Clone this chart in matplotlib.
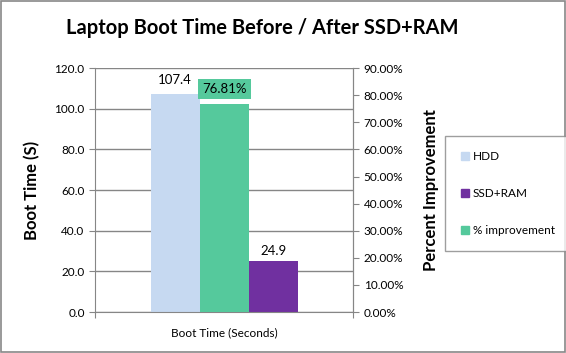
import matplotlib
matplotlib.use("Agg")
import matplotlib.pyplot as plt
from matplotlib.patches import Patch

category = "Boot Time (Seconds)"
series = ["HDD", "SSD+RAM"]
boot_times = [107.4, 24.9]
improvement = [76.81]
colours = {"HDD": "#c6d9f1", "SSD+RAM": "#7030a0", "% improvement": "#55c99c"}

plt.rcParams["font.family"] = ["Lato", "DejaVu Sans"]

fig = plt.figure(figsize=(5.66, 3.53), dpi=100)
fig.patches.append(plt.Rectangle((0.002, 0.003), 0.996, 0.994, transform=fig.transFigure,
                                 fill=False, edgecolor="#888888", linewidth=1.2))
ax = fig.add_axes([0.168, 0.116, 0.456, 0.691])
ax2 = ax.twinx()

w = 0.19
ax.bar(-w, boot_times[0], width=w, color=colours["HDD"], zorder=2)
ax.bar(w, boot_times[1], width=w, color=colours["SSD+RAM"], zorder=2)
ax2.bar(0, improvement[0], width=w, color=colours["% improvement"], zorder=2)

ax.text(-w, boot_times[0] + 4, f"{boot_times[0]:.1f}", ha="center", va="bottom", fontsize=9.5)
ax.text(w, boot_times[1] + 2, f"{boot_times[1]:.1f}", ha="center", va="bottom", fontsize=9.5)
ax2.text(0, improvement[0] + 5.5, f"{improvement[0]:.2f}%", ha="center", va="center", fontsize=9.5,
         bbox=dict(facecolor=colours["% improvement"], edgecolor="none", pad=3.0))

ax.set_xlim(-0.5, 0.5)
ax.set_ylim(0, 120)
ax2.set_ylim(0, 90)
ax.set_yticks(range(0, 121, 20))
ax.set_yticklabels([f"{v:.1f}" for v in range(0, 121, 20)], fontsize=8.5)
ax2.set_yticks(range(0, 91, 10))
ax2.set_yticklabels([f"{v:.2f}%" for v in range(0, 91, 10)], fontsize=8.5)
ax.set_xticks([-0.5, 0.5])
ax.set_xticklabels(["", ""])
ax.text(0, -10, category, ha="center", va="center", fontsize=8.5)
ax.grid(axis="y", color="#868686", linewidth=1, zorder=0)

for a in (ax, ax2):
    a.spines["top"].set_visible(False)
    a.spines["left"].set_color("#868686")
    a.spines["right"].set_color("#868686")
    a.spines["bottom"].set_color("#868686")
    a.tick_params(colors="#868686", labelcolor="black", length=4)
ax2.spines["left"].set_visible(False)
ax2.spines["bottom"].set_visible(False)

ax.set_ylabel("Boot Time (S)", fontsize=12, fontweight="bold", labelpad=10)
ax2.set_ylabel("Percent Improvement", fontsize=12, fontweight="bold", labelpad=14)
fig.suptitle("Laptop Boot Time Before / After SSD+RAM", fontsize=14.5, fontweight="bold",
             x=0.463, y=0.922, va="center")

handles = [Patch(color=colours[k]) for k in ("HDD", "SSD+RAM", "% improvement")]
leg = fig.legend(handles, ["HDD", "SSD+RAM", "% improvement"], loc="center",
                 bbox_to_anchor=(0.897, 0.452), fontsize=8.5, frameon=True, fancybox=False,
                 handlelength=0.7, handleheight=0.7, handletextpad=0.3, labelspacing=2.2,
                 borderpad=1.3, borderaxespad=0)
leg.get_frame().set_edgecolor("#868686")
leg.get_frame().set_linewidth(1)

fig.savefig("out.png", dpi=100)
